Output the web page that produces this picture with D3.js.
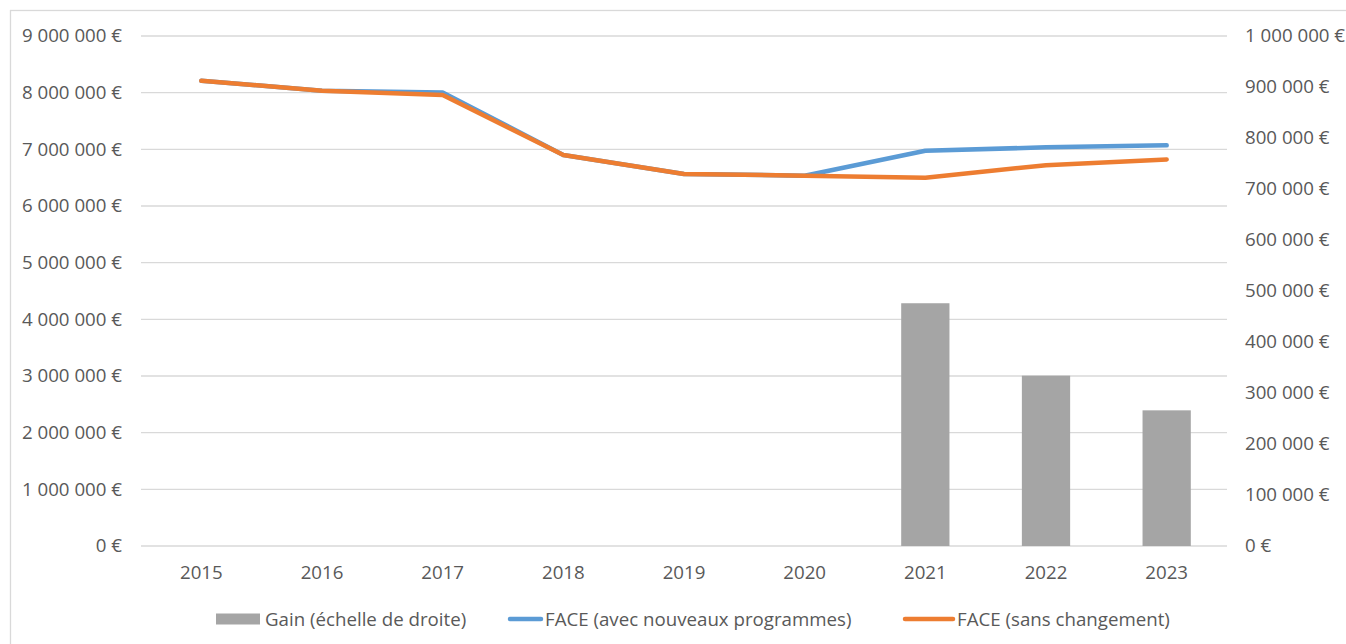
<!DOCTYPE html>
<html><head><meta charset="utf-8">
<script src="https://cdn.jsdelivr.net/npm/d3@7/dist/d3.min.js"></script>
<style>
html,body{margin:0;padding:0;background:#fff;}
svg{display:block;}
text{font-family:"Open Sans","Liberation Sans",sans-serif;fill:#595959;}
</style></head>
<body>
<svg id="chart" width="1346" height="644"></svg>
<script>
// ---- data ----
const years = ["2015","2016","2017","2018","2019","2020","2021","2022","2023"];
const faceNew = [8210000, 8035000, 8005000, 6900000, 6565000, 6535000, 6976000, 7035000, 7070000];
const faceSame = [8210000, 8035000, 7960000, 6900000, 6565000, 6535000, 6500000, 6720000, 6820000];
const gain = [null, null, null, null, null, null, 476000, 334000, 266000];
const leftTicks = [0,1000000,2000000,3000000,4000000,5000000,6000000,7000000,8000000,9000000];
const rightTicks = [0,100000,200000,300000,400000,500000,600000,700000,800000,900000,1000000];
const seriesNames = ["Gain (échelle de droite)","FACE (avec nouveaux programmes)","FACE (sans changement)"];
const colors = {gain:"#A5A5A5", faceNew:"#5B9BD5", faceSame:"#ED7D31"};

// ---- layout ----
const FS = 18.7;
const svg = d3.select("#chart");
const plot = {left:141, right:1227, top:36, bottom:546};
const loc = d3.formatLocale({decimal:",", thousands:"\u00a0", grouping:[3], currency:["","\u00a0€"]});
const fmt = loc.format("$,.0f");

svg.append("rect").attr("x",10.5).attr("y",10.5).attr("width",1346).attr("height",700)
  .attr("fill","none").attr("stroke","#D9D9D9").attr("stroke-width",1.3);

const x = d3.scaleBand().domain(years).range([plot.left, plot.right]).padding(0);
const yL = d3.scaleLinear().domain([0,9000000]).range([plot.bottom, plot.top]);
const yR = d3.scaleLinear().domain([0,1000000]).range([plot.bottom, plot.top]);

// gridlines
svg.append("g").selectAll("line").data(leftTicks).join("line")
  .attr("x1",plot.left).attr("x2",plot.right)
  .attr("y1",d=>yL(d)).attr("y2",d=>yL(d))
  .attr("stroke","#D9D9D9").attr("stroke-width",1.3);

// left axis
const axL = d3.axisLeft(yL).tickValues(leftTicks).tickFormat(fmt).tickSize(0).tickPadding(0);
const gL = svg.append("g").attr("transform","translate(122,0)").call(axL);
gL.select(".domain").remove();
gL.selectAll("text").attr("font-size",FS).attr("fill","#595959").style("font-family",null);

// right axis
const axR = d3.axisRight(yR).tickValues(rightTicks).tickFormat(fmt).tickSize(0).tickPadding(0);
const gR = svg.append("g").attr("transform","translate(1245,0)").call(axR);
gR.select(".domain").remove();
gR.selectAll("text").attr("font-size",FS).attr("fill","#595959").style("font-family",null);

// x axis
const axX = d3.axisBottom(x).tickSize(0).tickPadding(0);
const gX = svg.append("g").attr("transform","translate(0,566)").call(axX);
gX.select(".domain").remove();
gX.selectAll("text").attr("font-size",FS).attr("fill","#595959").style("font-family",null);

// bars
const bw = x.bandwidth()*0.4;
svg.append("g").selectAll("rect").data(years.map((y,i)=>({y, v:gain[i]})).filter(d=>d.v!=null)).join("rect")
  .attr("x",d=>x(d.y)+x.bandwidth()/2-bw/2).attr("width",bw)
  .attr("y",d=>yR(d.v)).attr("height",d=>yR(0)-yR(d.v))
  .attr("fill",colors.gain);

// lines
const line = d3.line().x((d,i)=>x(years[i])+x.bandwidth()/2).y(d=>yL(d));
svg.append("path").datum(faceNew).attr("d",line).attr("fill","none")
  .attr("stroke",colors.faceNew).attr("stroke-width",4.5).attr("stroke-linecap","round").attr("stroke-linejoin","round");
svg.append("path").datum(faceSame).attr("d",line).attr("fill","none")
  .attr("stroke",colors.faceSame).attr("stroke-width",4.5).attr("stroke-linecap","round").attr("stroke-linejoin","round");

// legend
const lg = svg.append("g");
const ly = 619;
lg.append("rect").attr("x",216).attr("y",ly-5.5).attr("width",44).attr("height",11).attr("fill",colors.gain);
lg.append("text").attr("x",265).attr("y",ly).attr("dy","0.35em").attr("font-size",FS).text(seriesNames[0]);
lg.append("line").attr("x1",510).attr("x2",541).attr("y1",ly).attr("y2",ly)
  .attr("stroke",colors.faceNew).attr("stroke-width",4.5).attr("stroke-linecap","round");
lg.append("text").attr("x",545).attr("y",ly).attr("dy","0.35em").attr("font-size",FS).text(seriesNames[1]);
lg.append("line").attr("x1",905).attr("x2",953).attr("y1",ly).attr("y2",ly)
  .attr("stroke",colors.faceSame).attr("stroke-width",4.5).attr("stroke-linecap","round");
lg.append("text").attr("x",957).attr("y",ly).attr("dy","0.35em").attr("font-size",FS).text(seriesNames[2]);
</script>
</body></html>
